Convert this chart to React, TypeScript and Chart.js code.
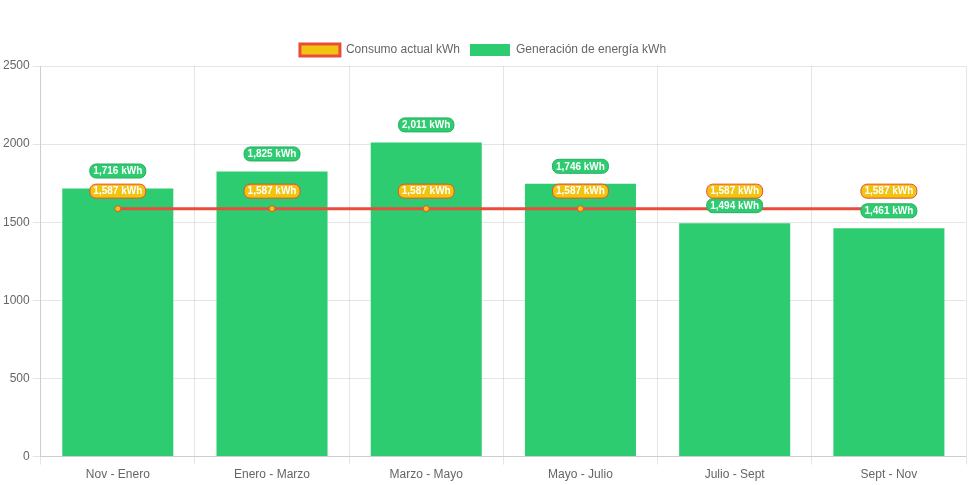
import React, { useEffect, useRef } from "react";
import { Chart, registerables } from "chart.js";

Chart.register(...registerables);

const categories = ["Nov - Enero", "Enero - Marzo", "Marzo - Mayo", "Mayo - Julio", "Julio - Sept", "Sept - Nov"];
const consumo = [1587, 1587, 1587, 1587, 1587, 1587];
const generacion = [1716, 1825, 2011, 1746, 1494, 1461];
const yTicks = [0, 500, 1000, 1500, 2000, 2500];

const labelStyles = [
  { bg: "#f1c40f", border: "#e74c3c" },
  { bg: "#2ecc71", border: "#27ae60" },
];

const fmt = (v: number) => v.toLocaleString("en-US") + " kWh";

const labelPlugin = {
  id: "valueLabels",
  afterDatasetsDraw(chart: any) {
    const ctx = chart.ctx as CanvasRenderingContext2D;
    ctx.save();
    ctx.font = "bold 10px 'Liberation Sans', Arial, sans-serif";
    ctx.textAlign = "center";
    ctx.textBaseline = "middle";
    const order = [1, 0];
    order.forEach((di) => {
      const meta = chart.getDatasetMeta(di);
      const data = chart.data.datasets[di].data as number[];
      const st = labelStyles[di];
      meta.data.forEach((el: any, i: number) => {
        const text = fmt(data[i]);
        const w = ctx.measureText(text).width + 7;
        const h = 14;
        const cx = el.x;
        const cy = el.y - 17.5;
        const x = cx - w / 2;
        const y = cy - h / 2;
        ctx.beginPath();
        (ctx as any).roundRect(x, y, w, h, 6);
        ctx.fillStyle = st.bg;
        ctx.fill();
        ctx.lineWidth = 1;
        ctx.strokeStyle = st.border;
        ctx.stroke();
        ctx.fillStyle = "#ffffff";
        ctx.fillText(text, cx, cy + 0.5);
      });
    });
    ctx.restore();
  },
};

export default function App() {
  const ref = useRef<HTMLCanvasElement | null>(null);
  useEffect(() => {
    document.body.style.margin = "0";
    Chart.defaults.font.family = "'Liberation Sans', Arial, sans-serif";
    Chart.defaults.color = "#666";
    const chart = new Chart(ref.current!, {
      type: "bar",
      data: {
        labels: categories,
        datasets: [
          {
            type: "line",
            label: "Consumo actual kWh",
            data: consumo,
            backgroundColor: "#f1c40f",
            borderColor: "#e74c3c",
            borderWidth: 3,
            pointBackgroundColor: "#f1c40f",
            pointBorderColor: "#e74c3c",
            pointBorderWidth: 1,
            pointRadius: 3,
            fill: false,
          } as any,
          {
            type: "bar",
            label: "Generación de energía kWh",
            data: generacion,
            backgroundColor: "#2ecc71",
            borderColor: "#2ecc71",
          },
        ],
      },
      options: {
        animation: false,
        responsive: true,
        maintainAspectRatio: false,
        layout: { padding: { top: 34, left: 0, right: 5, bottom: 0 } },
        plugins: {
          legend: { position: "top" },
          tooltip: { enabled: false },
        },
        scales: {
          x: {
            grid: { color: "rgba(0,0,0,0.1)" },
          },
          y: {
            min: 0,
            max: 2500,
            afterBuildTicks: (axis: any) => {
              axis.ticks = yTicks.map((v) => ({ value: v }));
            },
            ticks: { callback: (v: any) => String(v) },
            grid: { color: "rgba(0,0,0,0.1)" },
          },
        },
      },
      plugins: [labelPlugin],
    });
    return () => chart.destroy();
  }, []);
  return (
    <div style={{ width: 971, height: 485, position: "relative" }}>
      <canvas ref={ref} />
    </div>
  );
}
